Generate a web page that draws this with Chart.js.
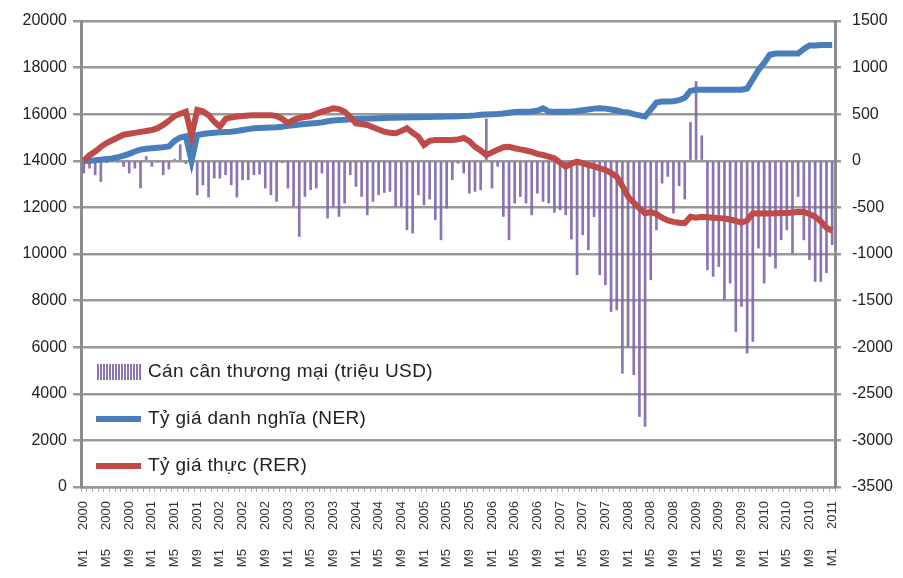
<!DOCTYPE html>
<html>
<head>
<meta charset="utf-8">
<script src="https://cdn.jsdelivr.net/npm/chart.js@4.4.1/dist/chart.umd.min.js"></script>
<style>
  html, body { margin: 0; padding: 0; background: #fff; }
  #wrap { width: 903px; height: 578px; }
</style>
</head>
<body>
<div id="wrap"><canvas id="chart" width="903" height="578"></canvas></div>
<script>
// Tháng: M1 2000 .. M1 2011
const years = [2000, 2001, 2002, 2003, 2004, 2005, 2006, 2007, 2008, 2009, 2010];
const months = [];
years.forEach(y => { for (let m = 1; m <= 12; m++) months.push('M' + m + ' ' + y); });
months.push('M1 2011');

// Cán cân thương mại (triệu USD) - trục phải
const tradeBalance = [
    -132, -79, -150, -222, -20, 46, -10, -61, -132, -79, -293, 46,
    -61, -10, -150, -89, 18, 172, -30, -89, -365, -258, -390, -186,
    -186, -150, -258, -390, -204, -204, -150, -143, -293, -365, -436, -20,
    -293, -483, -812, -383, -311, -293, -132, -615, -490, -597, -454, -150,
    -275, -383, -580, -436, -365, -340, -329, -490, -490, -740, -776, -365,
    -472, -411, -633, -848, -508, -204, -25, -132, -347, -329, -311, 450,
    -293, -60, -597, -848, -454, -383, -454, -580, -347, -436, -454, -554,
    -526, -580, -840, -1223, -794, -955, -600, -1223, -1330, -1617, -1600, -2280,
    -1992, -2296, -2743, -2850, -1277, -740, -240, -168, -561, -268, -411, 411,
    851, 268, -1170, -1241, -1134, -1491, -1313, -1831, -1563, -2063, -1938, -937,
    -1313, -1027, -1152, -848, -740, -991, -383, -848, -1062, -1295, -1295, -1200,
    -900
];

// Tỷ giá danh nghĩa (NER) - trục trái
const ner = [
    13990, 14000, 14020, 14050, 14080, 14100, 14150, 14220, 14300, 14400, 14480, 14520,
    14540, 14560, 14580, 14620, 14850, 15000, 15050, 14000, 15100, 15150, 15180, 15200,
    15220, 15240, 15250, 15280, 15320, 15360, 15400, 15410, 15420, 15430, 15440, 15460,
    15500, 15530, 15560, 15580, 15600, 15620, 15650, 15700, 15730, 15750, 15760, 15780,
    15790, 15800, 15810, 15820, 15830, 15840, 15850, 15850, 15860, 15860, 15870, 15870,
    15880, 15880, 15890, 15890, 15900, 15900, 15910, 15920, 15930, 15950, 15980, 15990,
    16000, 16010, 16030, 16060, 16090, 16100, 16110, 16120, 16150, 16250, 16120, 16100,
    16100, 16110, 16120, 16140, 16170, 16200, 16240, 16260, 16240, 16200, 16160, 16100,
    16080, 16000, 15950, 15900, 16200, 16500, 16550, 16550, 16560, 16600, 16700, 17000,
    17050, 17050, 17050, 17050, 17050, 17050, 17050, 17050, 17050, 17100, 17500, 17900,
    18200, 18550, 18600, 18600, 18600, 18600, 18600, 18800, 18950, 18950, 18970, 18970,
    18970
];

// Tỷ giá thực (RER) - trục phải
const rer = [
    0, 60, 100, 150, 190, 220, 250, 280, 290, 300, 310, 320,
    330, 350, 385, 430, 480, 505, 527, 270, 545, 530, 490, 420,
    365, 450, 465, 475, 480, 485, 490, 490, 490, 490, 480, 450,
    405, 440, 460, 470, 480, 505, 527, 545, 563, 555, 527, 470,
    402, 395, 384, 360, 335, 312, 300, 295, 320, 349, 300, 260,
    170, 215, 223, 223, 223, 223, 230, 245, 210, 150, 110, 62,
    90, 120, 145, 150, 135, 123, 110, 95, 75, 62, 45, 27,
    -20, -63, -30, -10, -25, -45, -60, -80, -99, -130, -170, -270,
    -385, -450, -510, -563, -550, -570, -610, -640, -655, -665, -670, -600,
    -610, -600, -605, -610, -615, -620, -630, -645, -664, -640, -563, -565,
    -563, -565, -563, -560, -560, -555, -546, -550, -570, -600, -650, -720,
    -750
];

const legendLabels = ['Cán cân thương mại (triệu USD)', 'Tỷ giá danh nghĩa (NER)', 'Tỷ giá thực (RER)'];

const PURPLE = 'rgba(128, 100, 170, 0.9)';
const BLUE = '#4a7ebb';
const RED = '#be4b48';
const GRID = '#9a9a9a';
const FONT = '"Liberation Sans", Arial, sans-serif';

// Chú thích vẽ bên trong vùng biểu đồ
const insideLegend = {
    id: 'insideLegend',
    afterDatasetsDraw(chart) {
        const ctx = chart.ctx;
        ctx.save();
        // ký hiệu cột
        ctx.fillStyle = PURPLE;
        for (let x = 97; x < 141; x += 3) ctx.fillRect(x, 364, 2, 16);
        // ký hiệu đường
        ctx.lineWidth = 6;
        ctx.strokeStyle = BLUE;
        ctx.beginPath(); ctx.moveTo(96, 419); ctx.lineTo(141, 419); ctx.stroke();
        ctx.strokeStyle = RED;
        ctx.beginPath(); ctx.moveTo(96, 466); ctx.lineTo(141, 466); ctx.stroke();

        ctx.fillStyle = '#222';
        ctx.font = '19px ' + FONT;
        ctx.letterSpacing = '0.35px';
        ctx.textBaseline = 'middle';
        ctx.textAlign = 'left';
        ctx.fillText(legendLabels[0], 148, 372);
        ctx.fillText(legendLabels[1], 148, 419);
        ctx.fillText(legendLabels[2], 148, 466);
        ctx.restore();
    }
};

const ctx = document.getElementById('chart').getContext('2d');
new Chart(ctx, {
    type: 'bar',
    data: {
        labels: months,
        datasets: [
            {
                type: 'line',
                label: legendLabels[2],
                data: rer,
                yAxisID: 'yR',
                borderColor: RED,
                borderWidth: 6,
                pointRadius: 0,
                tension: 0,
                order: 1
            },
            {
                type: 'line',
                label: legendLabels[1],
                data: ner,
                yAxisID: 'yL',
                borderColor: BLUE,
                borderWidth: 6,
                pointRadius: 0,
                tension: 0,
                order: 2
            },
            {
                type: 'bar',
                label: legendLabels[0],
                data: tradeBalance,
                yAxisID: 'yR',
                backgroundColor: PURPLE,
                barThickness: 2,
                order: 3
            }
        ]
    },
    options: {
        responsive: false,
        animation: false,
        layout: { padding: { top: 21, left: 0, right: 0, bottom: 0 } },
        plugins: {
            legend: { display: false },
            tooltip: { enabled: false }
        },
        scales: {
            x: {
                afterFit: s => { s.height = 91; },
                grid: { drawOnChartArea: false, drawTicks: true, tickLength: 5, color: '#aaa', lineWidth: 1 },
                border: { display: true, color: GRID, width: 2.5 },
                ticks: {
                    autoSkip: false,
                    maxRotation: 90,
                    minRotation: 90,
                    padding: 9,
                    color: '#333',
                    font: { size: 13, family: FONT },
                    callback: (v, i) => i % 4 === 0 ? months[i].replace(' ', '\u2003\u2009 ') : ''
                }
            },
            yL: {
                type: 'linear',
                position: 'left',
                min: 0,
                max: 20000,
                afterFit: s => { s.width = 81; },
                grid: { color: GRID, lineWidth: 2.5, drawTicks: true, tickLength: 8 },
                border: { display: true, color: '#8c8c8c', width: 3 },
                ticks: {
                    stepSize: 2000,
                    padding: 6,
                    color: '#222',
                    font: { size: 16, family: FONT },
                    callback: v => String(v)
                }
            },
            yR: {
                type: 'linear',
                position: 'right',
                min: -3500,
                max: 1500,
                afterFit: s => { s.width = 68; },
                grid: { drawOnChartArea: false, color: GRID, lineWidth: 2.5, drawTicks: true, tickLength: 6 },
                border: { display: true, color: '#8c8c8c', width: 3 },
                ticks: {
                    stepSize: 500,
                    padding: 11,
                    color: '#222',
                    font: { size: 16, family: FONT },
                    callback: v => String(v)
                }
            }
        }
    },
    plugins: [insideLegend]
});
</script>
</body>
</html>
